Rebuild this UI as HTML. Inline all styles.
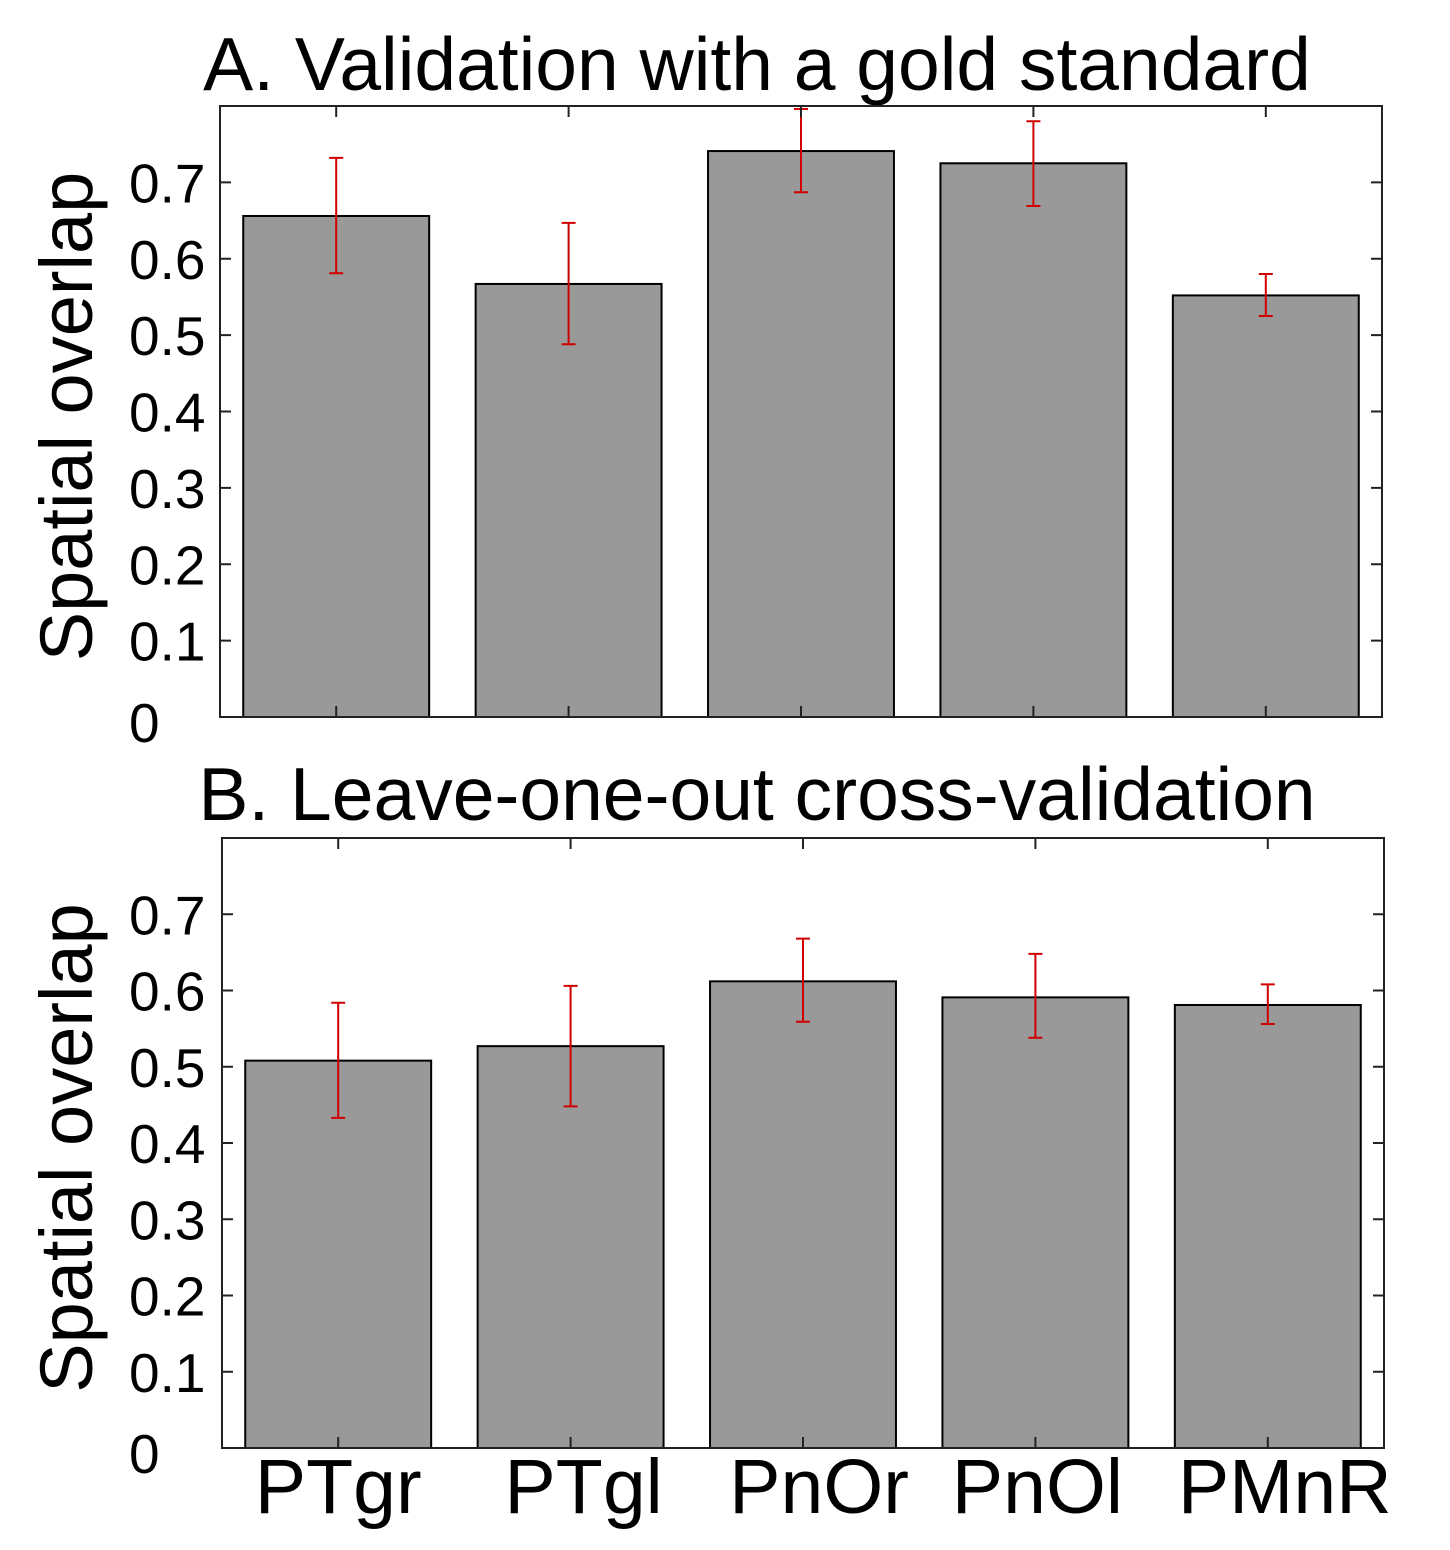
<!DOCTYPE html>
<html><head><meta charset="utf-8"><style>
html,body{margin:0;padding:0;background:#fff;}
svg{display:block;font-family:"Liberation Sans",Arial,sans-serif;}
</style></head><body>
<svg id="chart" width="1450" height="1550"></svg>
<script>
const categories = ["PTgr","PTgl","PnOr","PnOl","PMnR"];
const meansA = [0.656,0.567,0.741,0.725,0.552];
const upperA = [0.732,0.647,0.796,0.780,0.580];
const lowerA = [0.581,0.488,0.687,0.669,0.525];
const meansB = [0.508,0.527,0.612,0.591,0.581];
const upperB = [0.584,0.606,0.668,0.648,0.608];
const lowerB = [0.433,0.448,0.559,0.538,0.556];
const yTicks = [0,0.1,0.2,0.3,0.4,0.5,0.6,0.7];
const yTickLabels = ["0","0.1","0.2","0.3","0.4","0.5","0.6","0.7"];

const NS="http://www.w3.org/2000/svg";
const svg=document.getElementById('chart');
function mk(tag,attrs,parent){const e=document.createElementNS(NS,tag);for(const k in attrs)e.setAttribute(k,attrs[k]);(parent||svg).appendChild(e);return e;}

function panel(id,L,R,T,B,title,titleY,means,up,lo,showX){
  const g=mk('g',{});
  
  
  const yMax=0.8;
  const y=v=>B-(v/yMax)*(B-T);
  const band=(R-L)/5;
  const x=i=>L+band*(i+0.5);
  const bw=band*0.8;
  const t=mk('text',{x:757,y:titleY,'font-size':75,'text-anchor':'middle',fill:'#000'},g);
  t.textContent=title;
  
  
  means.forEach((m,i)=>{
    const r=mk('rect',{x:x(i)-bw/2,y:y(m),width:bw,height:B-y(m),fill:'#999999',stroke:'#000','stroke-width':2},g);
    
    
  });
  means.forEach((m,i)=>{
    const e=mk('path',{d:`M${x(i)},${y(up[i])}V${y(lo[i])}M${x(i)-7},${y(up[i])}H${x(i)+7}M${x(i)-7},${y(lo[i])}H${x(i)+7}`,stroke:'#d00000','stroke-width':2,fill:'none'},g);
    
    
  });
  const ax=mk('rect',{x:L,y:T,width:R-L,height:B-T,fill:'none',stroke:'#222','stroke-width':2},g);
  
  
  yTicks.forEach((v,i)=>{
    mk('path',{d:`M${L},${y(v)}h11M${R},${y(v)}h-11`,stroke:'#222','stroke-width':2},g);
    const tl=mk('text',{x:129,y:y(v)+20 - (v===0?-5:0),'font-size':55,'text-anchor':'start',fill:'#000'},g);
    tl.textContent=yTickLabels[i];
    
    
  });
  categories.forEach((c,i)=>{
    mk('path',{d:`M${x(i)},${T}v11M${x(i)},${B}v-11`,stroke:'#222','stroke-width':2},g);
  });
  const yl=mk('text',{transform:`translate(92,${(T+B)/2+5}) rotate(-90)`,'font-size':74,'text-anchor':'middle',fill:'#000'},g);
  yl.textContent='Spatial overlap';
  
  
  if(showX){
    const offs=[0,13,16,2,17];
    categories.forEach((c,i)=>{
      const xl=mk('text',{x:x(i)+offs[i],y:1513,'font-size':77,'text-anchor':'middle',fill:'#000'},g);
      xl.textContent=c;
      
      
    });
  }
}
panel('panel-a',220,1382,106,717,'A. Validation with a gold standard',90,meansA,upperA,lowerA,false);
panel('panel-b',222,1384,838,1448,'B. Leave-one-out cross-validation',820,meansB,upperB,lowerB,true);
</script>
</body></html>
